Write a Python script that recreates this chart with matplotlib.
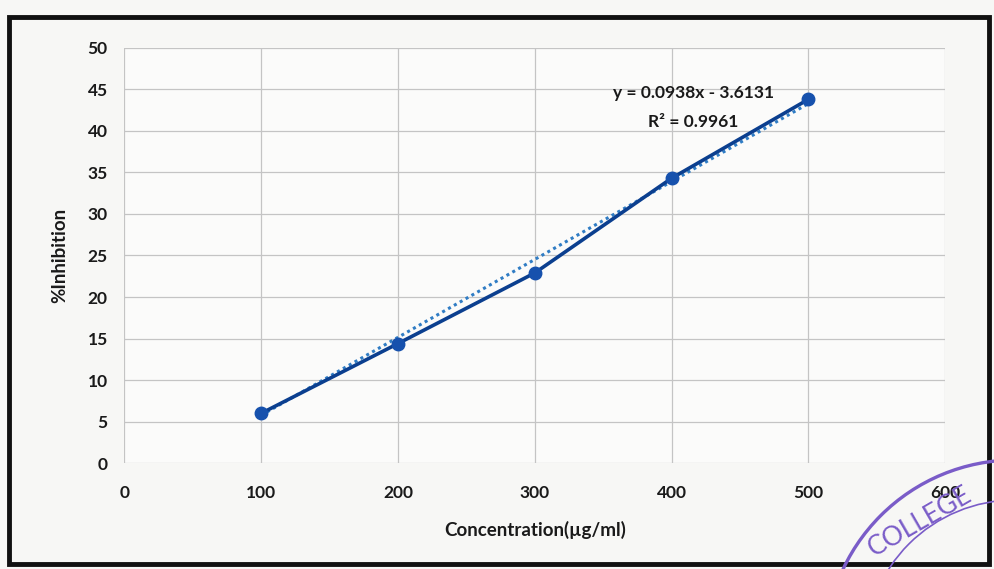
import matplotlib.pyplot as plt
import numpy as np
from matplotlib.patches import Rectangle, Ellipse

# data
concentration = [100, 200, 300, 400, 500]
inhibition = [6.0, 14.4, 22.9, 34.3, 43.8]
slope = 0.0938
intercept = -3.6131
r_squared = 0.9961

x_ticks = [0, 100, 200, 300, 400, 500, 600]
y_ticks = [0, 5, 10, 15, 20, 25, 30, 35, 40, 45, 50]

plt.rcParams["font.family"] = ["Lato", "DejaVu Sans"]

W, H = 995, 569
fig = plt.figure(figsize=(W / 100, H / 100), dpi=100)
fig.patch.set_facecolor("#f7f7f5")
ax = fig.add_axes([0.125, 0.186, 0.825, 0.730])
ax.set_facecolor("#fbfbfa")

# trendline
tx = np.array([concentration[0], concentration[-1]])
ax.plot(tx, slope * tx + intercept, linestyle=(0, (1, 1.2)), color="#2f7cc4", lw=2.2, zorder=3)

ax.plot(concentration, inhibition, color="#0b3f8f", lw=2.6, marker="o", ms=9,
        markerfacecolor="#1651ad", markeredgecolor="#1651ad", zorder=4)

ax.set_xlim(0, 600)
ax.set_ylim(0, 50)
ax.set_xticks(x_ticks)
ax.set_yticks(y_ticks)
ax.grid(True, color="#c4c4c4", lw=0.9)
ax.set_axisbelow(True)
for s in ax.spines.values():
    s.set_visible(False)
ax.tick_params(length=0, labelsize=12.5, colors="#1a1a1a")
ax.tick_params(axis="x", pad=16)
ax.tick_params(axis="y", pad=12)
for lab in ax.get_xticklabels() + ax.get_yticklabels():
    lab.set_fontweight("bold")

ax.set_xlabel("Concentration(µg/ml)", fontsize=13.5, fontweight="bold", color="#1a1a1a", labelpad=14)
ax.set_ylabel("%Inhibition", fontsize=13.5, fontweight="bold", color="#1a1a1a", labelpad=14)

ax.text(416, 44.6, f"y = {slope}x - {abs(intercept)}", ha="center", va="center",
        fontsize=12.5, fontweight="bold", color="#1a1a1a")
ax.text(416, 41.1, f"R² = {r_squared}", ha="center", va="center",
        fontsize=12.5, fontweight="bold", color="#1a1a1a")

# dark frame of the photographed chart
fig.patches.append(Rectangle((0.009, 0.008), 0.985, 0.963, transform=fig.transFigure,
                             fill=False, edgecolor="#111111", lw=3.5, zorder=10))

# college stamp in the corner
for r, lw in [(190, 2.4), (150, 1.2)]:
    fig.patches.append(Ellipse((1015 / W, 1 - 650 / H), 2 * r / W, 2 * r / H,
                               transform=fig.transFigure, fill=False,
                               edgecolor="#7a5cc8", lw=lw, zorder=11))
fig.text(920 / W, 1 - 522 / H, "COLLEGE", rotation=30, fontsize=19, color="#7a5cc8",
         ha="center", va="center", zorder=11)

fig.savefig("out.png", dpi=100, facecolor=fig.get_facecolor())
